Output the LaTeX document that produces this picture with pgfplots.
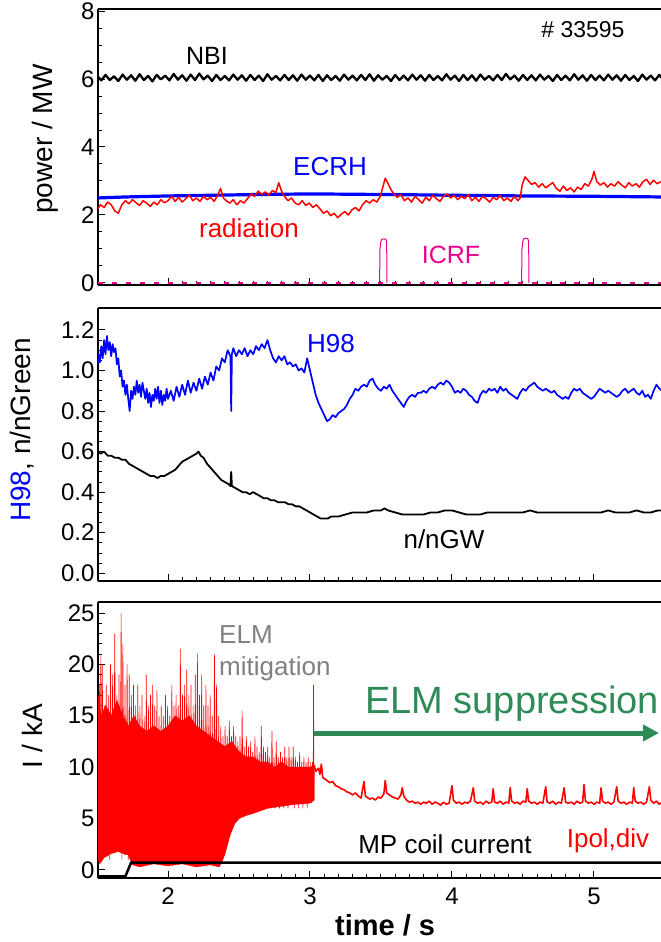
\documentclass[border=0pt]{standalone}
\usepackage{fontspec}
\setmainfont{Liberation Sans}
\usepackage{pgfplots}
\pgfplotsset{compat=1.18}
\usetikzlibrary{arrows.meta}
\definecolor{seagr}{RGB}{46,139,87}
\definecolor{elmgray}{RGB}{128,128,128}
\pgfplotsset{
  myax/.style={
    scale only axis, width=563pt,
    xmin=1.507, xmax=5.472,
    axis x line*=box, axis y line*=left,
    axis line style={line width=1.2pt, black, -},
    tick align=inside,
    xtick pos=left, ytick pos=left,
    xtick={2,3,4,5}, minor x tick num=9,
    major tick length=7pt, minor tick length=4pt,
    tick style={line width=1pt, black},
    tick label style={font=\fontsize{24}{24}\selectfont},
    /pgf/number format/assume math mode=true,
  },
}
\begin{document}
\begin{tikzpicture}
\path[use as bounding box] (0,0) rectangle (661pt,-942pt);
% ---------------- panel 1 ----------------
\begin{axis}[myax, at={(98pt,-285pt)}, anchor=south west, height=276pt,
  ymin=-0.06, ymax=8.06, ytick={0,2,4,6,8}, minor y tick num=3, xticklabels={},
  ylabel={power / MW},
  every axis y label/.style={at={(axis description cs:-0.094,0.529)}, anchor=center, rotate=90, font=\fontsize{28}{28}\selectfont}]
\addplot[black, line width=2.3pt, line join=round] coordinates {(1.50,6.10)(1.53,5.96)(1.56,6.12)(1.59,5.97)(1.62,6.08)(1.65,5.94)(1.68,6.13)(1.71,5.98)(1.74,6.11)(1.77,5.95)(1.80,6.14)(1.83,5.97)(1.86,6.09)(1.89,5.93)(1.92,6.12)(1.95,5.99)(1.98,6.10)(2.01,5.96)(2.04,6.15)(2.07,5.98)(2.10,6.11)(2.13,5.95)(2.16,6.13)(2.19,5.97)(2.22,6.16)(2.25,5.99)(2.28,6.10)(2.31,5.94)(2.34,6.12)(2.37,5.97)(2.40,6.09)(2.43,5.96)(2.46,6.13)(2.49,5.98)(2.52,6.11)(2.55,5.95)(2.58,6.12)(2.61,5.97)(2.64,6.10)(2.67,5.94)(2.70,6.14)(2.73,5.98)(2.76,6.09)(2.79,5.96)(2.82,6.12)(2.85,5.97)(2.88,6.11)(2.91,5.95)(2.94,6.13)(2.97,5.98)(3.00,6.10)(3.03,5.96)(3.06,6.12)(3.09,5.94)(3.12,6.11)(3.15,5.97)(3.18,6.09)(3.21,5.95)(3.24,6.13)(3.27,5.98)(3.30,6.10)(3.33,5.96)(3.36,6.12)(3.39,5.97)(3.42,6.14)(3.45,5.95)(3.48,6.11)(3.51,5.98)(3.54,6.09)(3.57,5.94)(3.60,6.12)(3.63,5.97)(3.66,6.10)(3.69,5.96)(3.72,6.13)(3.75,5.98)(3.78,6.11)(3.81,5.95)(3.84,6.12)(3.87,5.97)(3.90,6.09)(3.93,5.96)(3.96,6.14)(3.99,5.98)(4.02,6.10)(4.05,5.94)(4.08,6.12)(4.11,5.97)(4.14,6.11)(4.17,5.95)(4.20,6.13)(4.23,5.98)(4.26,6.09)(4.29,5.96)(4.32,6.12)(4.35,5.97)(4.38,6.15)(4.41,5.99)(4.44,6.10)(4.47,5.95)(4.50,6.12)(4.53,5.97)(4.56,6.11)(4.59,5.96)(4.62,6.13)(4.65,5.98)(4.68,6.09)(4.71,5.94)(4.74,6.12)(4.77,5.97)(4.80,6.10)(4.83,5.96)(4.86,6.14)(4.89,5.98)(4.92,6.11)(4.95,5.95)(4.98,6.12)(5.01,5.97)(5.04,6.10)(5.07,5.96)(5.10,6.13)(5.13,5.98)(5.16,6.11)(5.19,5.95)(5.22,6.12)(5.25,5.97)(5.28,6.09)(5.31,5.94)(5.34,6.13)(5.37,5.98)(5.40,6.10)(5.43,5.96)(5.46,6.12)(5.49,5.97)};
\addplot[blue, line width=3.2pt] coordinates {(1.50,2.50)(1.7,2.53)(2.0,2.56)(2.3,2.58)(2.6,2.60)(3.0,2.62)(3.3,2.61)(3.6,2.60)(4.0,2.58)(4.3,2.57)(4.5,2.56)(5.0,2.55)(5.48,2.53)};
\addplot[red, line width=1.5pt, line join=round] coordinates {(1.500,2.15)(1.525,2.30)(1.550,2.22)(1.575,2.38)(1.600,2.30)(1.625,2.12)(1.650,2.05)(1.675,2.30)(1.700,2.42)(1.725,2.33)(1.750,2.45)(1.775,2.36)(1.800,2.28)(1.825,2.42)(1.850,2.35)(1.875,2.25)(1.900,2.38)(1.925,2.30)(1.950,2.45)(1.975,2.36)(2.000,2.42)(2.025,2.55)(2.050,2.40)(2.075,2.52)(2.100,2.38)(2.125,2.48)(2.150,2.58)(2.175,2.42)(2.200,2.50)(2.225,2.40)(2.250,2.55)(2.275,2.45)(2.300,2.52)(2.325,2.40)(2.350,2.58)(2.370,2.78)(2.390,2.50)(2.410,2.42)(2.435,2.35)(2.460,2.45)(2.485,2.30)(2.510,2.42)(2.535,2.35)(2.560,2.48)(2.585,2.62)(2.610,2.55)(2.635,2.70)(2.660,2.60)(2.685,2.68)(2.710,2.58)(2.735,2.72)(2.760,2.66)(2.780,2.95)(2.800,2.70)(2.820,2.55)(2.845,2.42)(2.870,2.50)(2.895,2.35)(2.920,2.30)(2.945,2.42)(2.970,2.28)(2.995,2.35)(3.020,2.22)(3.045,2.30)(3.070,2.18)(3.095,2.05)(3.120,2.12)(3.145,1.98)(3.170,2.05)(3.195,1.92)(3.220,2.02)(3.245,2.10)(3.270,2.00)(3.295,2.15)(3.320,2.22)(3.345,2.12)(3.370,2.30)(3.395,2.42)(3.420,2.35)(3.445,2.45)(3.470,2.38)(3.495,2.55)(3.515,2.85)(3.530,3.08)(3.550,2.92)(3.570,2.75)(3.590,2.62)(3.615,2.52)(3.640,2.60)(3.665,2.42)(3.690,2.50)(3.715,2.38)(3.740,2.55)(3.765,2.45)(3.790,2.35)(3.815,2.52)(3.840,2.42)(3.865,2.58)(3.890,2.48)(3.915,2.40)(3.940,2.55)(3.965,2.62)(3.990,2.50)(4.015,2.58)(4.040,2.45)(4.065,2.55)(4.090,2.48)(4.115,2.60)(4.140,2.42)(4.165,2.52)(4.190,2.40)(4.215,2.55)(4.240,2.48)(4.265,2.38)(4.290,2.52)(4.315,2.45)(4.340,2.58)(4.365,2.42)(4.390,2.50)(4.415,2.40)(4.440,2.55)(4.465,2.42)(4.480,2.50)(4.495,2.90)(4.515,3.12)(4.535,3.02)(4.560,2.90)(4.585,2.95)(4.610,2.82)(4.635,2.92)(4.660,2.80)(4.685,2.88)(4.710,2.95)(4.735,2.78)(4.760,2.70)(4.785,2.85)(4.810,2.72)(4.835,2.80)(4.860,2.68)(4.885,2.82)(4.910,2.75)(4.935,2.92)(4.960,2.85)(4.985,3.05)(5.000,3.28)(5.020,2.98)(5.045,2.88)(5.070,2.95)(5.095,2.82)(5.120,2.92)(5.145,2.85)(5.170,2.98)(5.195,2.88)(5.220,2.80)(5.245,2.95)(5.270,2.85)(5.295,2.92)(5.320,2.82)(5.345,2.98)(5.370,3.05)(5.395,2.90)(5.420,3.02)(5.445,2.92)(5.470,2.98)};
\addplot[magenta, line width=1.5pt, dash pattern=on 5pt off 9pt] coordinates {(1.507,0)(5.472,0)};
\addplot[magenta, line width=1pt] coordinates {(3.490,0)(3.493,1.0)(3.498,1.2)(3.505,1.28)(3.520,1.30)(3.535,1.28)(3.540,1.2)(3.542,0)};
\addplot[magenta, line width=1pt] coordinates {(4.490,0)(4.493,1.0)(4.498,1.2)(4.505,1.30)(4.520,1.32)(4.535,1.30)(4.540,1.2)(4.542,0)};
\end{axis}
% ---------------- panel 2 ----------------
\begin{axis}[myax, at={(98pt,-581pt)}, anchor=south west, height=273pt,
  ymin=-0.038, ymax=1.308, ytick={0,0.2,0.4,0.6,0.8,1.0,1.2}, minor y tick num=3, xticklabels={},
  yticklabel style={/pgf/number format/.cd, fixed, fixed zerofill, precision=1},
  ylabel={\textcolor{blue}{H98}, n/nGreen},
  every axis y label/.style={at={(axis description cs:-0.135,0.553)}, anchor=center, rotate=90, font=\fontsize{28}{28}\selectfont}]
\addplot[blue, line width=1.7pt, line join=round] coordinates {(1.50,1.00)(1.51,1.08)(1.52,1.04)(1.53,1.12)(1.54,1.06)(1.55,1.15)(1.56,1.08)(1.57,1.17)(1.58,1.10)(1.59,1.14)(1.60,1.07)(1.61,1.13)(1.62,1.09)(1.63,1.11)(1.64,1.03)(1.65,1.06)(1.66,0.97)(1.67,1.00)(1.68,0.92)(1.69,0.95)(1.70,0.88)(1.71,0.93)(1.72,0.86)(1.73,0.80)(1.74,0.90)(1.75,0.86)(1.76,0.92)(1.77,0.88)(1.78,0.95)(1.79,0.89)(1.80,0.93)(1.81,0.87)(1.82,0.94)(1.83,0.90)(1.84,0.86)(1.85,0.91)(1.86,0.84)(1.87,0.89)(1.88,0.82)(1.89,0.88)(1.90,0.85)(1.91,0.91)(1.92,0.86)(1.93,0.92)(1.94,0.84)(1.95,0.90)(1.96,0.83)(1.97,0.88)(1.98,0.85)(1.99,0.91)(2.00,0.86)(2.02,0.90)(2.04,0.85)(2.06,0.92)(2.08,0.87)(2.10,0.93)(2.12,0.88)(2.14,0.95)(2.16,0.89)(2.18,0.94)(2.20,0.90)(2.22,0.96)(2.24,0.91)(2.26,0.97)(2.28,0.93)(2.30,0.99)(2.32,0.95)(2.34,1.02)(2.36,1.00)(2.38,1.06)(2.40,1.04)(2.42,1.10)(2.44,1.07)(2.445,0.80)(2.45,1.08)(2.46,1.11)(2.48,1.07)(2.50,1.10)(2.52,1.08)(2.54,1.11)(2.56,1.07)(2.58,1.10)(2.60,1.08)(2.62,1.12)(2.64,1.10)(2.66,1.13)(2.68,1.11)(2.70,1.15)(2.72,1.10)(2.74,1.06)(2.76,1.04)(2.78,1.07)(2.80,1.05)(2.82,1.07)(2.84,1.03)(2.86,1.04)(2.88,1.02)(2.90,1.03)(2.92,1.00)(2.94,1.01)(2.96,0.99)(2.98,1.06)(3.00,1.00)(3.02,0.94)(3.04,0.88)(3.06,0.84)(3.08,0.81)(3.10,0.78)(3.12,0.75)(3.14,0.76)(3.16,0.78)(3.18,0.77)(3.20,0.79)(3.22,0.80)(3.24,0.81)(3.26,0.83)(3.28,0.86)(3.30,0.88)(3.32,0.91)(3.34,0.90)(3.36,0.92)(3.38,0.93)(3.40,0.92)(3.42,0.95)(3.44,0.96)(3.46,0.93)(3.48,0.91)(3.50,0.90)(3.52,0.92)(3.54,0.91)(3.56,0.93)(3.58,0.90)(3.60,0.88)(3.62,0.86)(3.64,0.84)(3.66,0.82)(3.68,0.85)(3.70,0.87)(3.72,0.88)(3.74,0.87)(3.76,0.89)(3.78,0.89)(3.80,0.90)(3.82,0.89)(3.84,0.91)(3.86,0.92)(3.88,0.91)(3.90,0.93)(3.92,0.94)(3.94,0.93)(3.96,0.95)(3.98,0.94)(4.00,0.92)(4.02,0.89)(4.04,0.90)(4.06,0.89)(4.08,0.91)(4.10,0.90)(4.12,0.88)(4.14,0.87)(4.16,0.85)(4.18,0.84)(4.20,0.88)(4.22,0.90)(4.24,0.89)(4.26,0.91)(4.28,0.90)(4.30,0.91)(4.32,0.89)(4.34,0.92)(4.36,0.90)(4.38,0.91)(4.40,0.89)(4.42,0.88)(4.44,0.87)(4.46,0.86)(4.48,0.89)(4.50,0.91)(4.52,0.90)(4.54,0.92)(4.56,0.93)(4.58,0.94)(4.60,0.92)(4.62,0.91)(4.64,0.90)(4.66,0.91)(4.68,0.90)(4.70,0.89)(4.72,0.90)(4.74,0.88)(4.76,0.87)(4.78,0.86)(4.80,0.87)(4.82,0.86)(4.84,0.89)(4.86,0.91)(4.88,0.90)(4.90,0.91)(4.92,0.89)(4.94,0.88)(4.96,0.87)(4.98,0.86)(5.00,0.87)(5.02,0.89)(5.04,0.91)(5.06,0.90)(5.08,0.89)(5.10,0.90)(5.12,0.89)(5.14,0.88)(5.16,0.87)(5.18,0.88)(5.20,0.90)(5.22,0.91)(5.24,0.89)(5.26,0.90)(5.28,0.91)(5.30,0.89)(5.32,0.88)(5.34,0.90)(5.36,0.87)(5.38,0.88)(5.40,0.86)(5.42,0.90)(5.44,0.93)(5.46,0.91)(5.48,0.90)};
\addplot[black, line width=1.8pt, line join=round] coordinates {(1.500,0.60)(1.525,0.59)(1.550,0.60)(1.575,0.58)(1.600,0.58)(1.625,0.57)(1.650,0.57)(1.675,0.56)(1.700,0.56)(1.725,0.54)(1.750,0.53)(1.775,0.52)(1.800,0.51)(1.825,0.50)(1.850,0.49)(1.875,0.48)(1.900,0.48)(1.925,0.47)(1.950,0.48)(1.975,0.48)(2.000,0.49)(2.025,0.50)(2.050,0.51)(2.075,0.53)(2.100,0.55)(2.125,0.56)(2.150,0.57)(2.175,0.58)(2.200,0.59)(2.215,0.60)(2.230,0.58)(2.250,0.57)(2.275,0.54)(2.300,0.52)(2.325,0.50)(2.350,0.48)(2.375,0.46)(2.400,0.45)(2.425,0.44)(2.440,0.43)(2.445,0.50)(2.450,0.43)(2.475,0.42)(2.500,0.41)(2.525,0.40)(2.550,0.40)(2.575,0.39)(2.600,0.40)(2.625,0.39)(2.650,0.38)(2.675,0.37)(2.700,0.37)(2.725,0.36)(2.750,0.36)(2.775,0.35)(2.800,0.35)(2.825,0.35)(2.850,0.34)(2.875,0.34)(2.900,0.33)(2.925,0.33)(2.950,0.32)(2.975,0.31)(3.000,0.30)(3.025,0.29)(3.050,0.28)(3.075,0.27)(3.100,0.27)(3.125,0.27)(3.150,0.28)(3.200,0.28)(3.250,0.29)(3.300,0.30)(3.350,0.30)(3.400,0.30)(3.450,0.31)(3.500,0.31)(3.525,0.32)(3.550,0.31)(3.600,0.30)(3.650,0.29)(3.700,0.29)(3.750,0.29)(3.800,0.29)(3.850,0.30)(3.900,0.30)(3.950,0.31)(4.000,0.31)(4.050,0.30)(4.100,0.29)(4.150,0.29)(4.200,0.29)(4.250,0.30)(4.300,0.30)(4.350,0.30)(4.400,0.30)(4.450,0.30)(4.500,0.30)(4.550,0.31)(4.600,0.30)(4.650,0.30)(4.700,0.30)(4.750,0.30)(4.800,0.30)(4.850,0.30)(4.900,0.30)(4.950,0.30)(5.000,0.30)(5.050,0.30)(5.100,0.31)(5.150,0.30)(5.200,0.30)(5.250,0.30)(5.300,0.31)(5.350,0.30)(5.400,0.30)(5.450,0.31)(5.480,0.31)};
\end{axis}
% ---------------- panel 3 ----------------
\begin{axis}[myax, at={(98pt,-878pt)}, anchor=south west, height=276pt,
  ymin=-0.78, ymax=26.07, ytick={0,5,10,15,20,25}, minor y tick num=4,
  xticklabel style={yshift=-6pt},
  xlabel={\bfseries time / s},
  every axis x label/.style={at={(axis description cs:0.51,-0.207)}, anchor=base, inner sep=0pt, font=\fontsize{29}{29}\selectfont},
  ylabel={I / kA},
  every axis y label/.style={at={(axis description cs:-0.117,0.514)}, anchor=center, rotate=90, font=\fontsize{28}{28}\selectfont}]
\addplot[red, fill=red, line width=0.4pt] coordinates {(1.507,17)(1.53,15)(1.56,16)(1.60,15)(1.64,16.5)(1.68,15)(1.72,14)(1.76,15)(1.80,14)(1.85,13.5)(1.90,14)(1.95,13.5)(2.00,14)(2.05,15)(2.10,14.5)(2.15,15)(2.20,14)(2.25,13.5)(2.30,13)(2.35,12.5)(2.40,12)(2.45,12.5)(2.50,11.5)(2.55,11)(2.60,11)(2.65,10.5)(2.70,10.5)(2.75,10)(2.80,10.5)(2.85,10)(2.90,10)(2.95,10)(3.00,10)(3.03,10.2)(3.03,6.8)(3.00,6.5)(2.90,6.4)(2.80,6.2)(2.70,6.0)(2.60,5.5)(2.55,5.3)(2.50,5.0)(2.47,4.5)(2.44,3.5)(2.42,2.5)(2.40,1.5)(2.38,0.8)(2.36,0.3)(2.30,0.5)(2.20,0.3)(2.10,0.6)(2.00,0.4)(1.90,0.6)(1.80,0.3)(1.75,0.5)(1.72,1.5)(1.70,1.5)(1.65,1.8)(1.60,1.6)(1.55,1.2)(1.52,0.6)(1.507,1)} -- cycle;
\addplot[red, line width=0.6pt] coordinates {(1.507,17)(1.512,2)(1.517,18)(1.522,1)(1.527,21)(1.532,3)(1.537,20)(1.545,5)(1.552,16)(1.558,2)(1.565,18)(1.572,4)(1.580,17)(1.587,1)(1.595,20)(1.602,3)(1.610,19)(1.617,2)(1.625,23)(1.632,4)(1.640,17)(1.647,2)(1.655,19)(1.662,3)(1.670,25)(1.675,1)(1.682,22)(1.690,2)(1.697,18)(1.705,3)(1.712,20)(1.720,1)(1.727,19)(1.735,2)(1.742,17)(1.750,1)(1.757,18)(1.765,2)(1.772,16)(1.780,1)(1.787,18)(1.795,2)(1.802,16)(1.810,1)(1.817,17)(1.825,2)(1.832,15)(1.840,1)(1.847,19)(1.855,2)(1.862,16)(1.870,1)(1.877,17)(1.885,2)(1.892,18)(1.900,1)(1.907,16)(1.915,2)(1.922,17.5)(1.930,1)(1.937,15)(1.945,2)(1.952,16)(1.960,1)(1.967,15)(1.975,2)(1.982,17)(1.990,1)(1.997,16)(2.005,2)(2.012,15)(2.020,1)(2.027,18)(2.035,2)(2.042,16)(2.050,1)(2.057,17)(2.065,2)(2.072,16)(2.080,1)(2.087,21.5)(2.095,2)(2.102,17)(2.110,1)(2.117,18)(2.125,2)(2.132,19.5)(2.140,1)(2.147,17)(2.155,2)(2.162,18)(2.170,1)(2.177,16)(2.185,2)(2.192,19)(2.200,1)(2.207,21)(2.215,2)(2.222,17)(2.230,1)(2.237,19)(2.245,2)(2.252,16)(2.260,1)(2.267,18)(2.275,2)(2.282,16)(2.290,1)(2.297,17)(2.305,2)(2.312,15)(2.320,1)(2.327,21)(2.335,2)(2.342,18)(2.350,1)(2.357,15)(2.365,2)(2.372,14)(2.380,3)(2.387,13)(2.395,4)(2.402,14)(2.410,5)(2.417,13)(2.425,5)(2.432,14.5)(2.440,5)(2.447,13)(2.455,6)(2.462,14)(2.470,5)(2.477,13)(2.485,6)(2.492,12.5)(2.500,6)(2.507,13)(2.515,5.5)(2.522,15.5)(2.530,6)(2.537,12)(2.545,6)(2.552,13)(2.560,5.5)(2.567,12)(2.575,6)(2.582,12.5)(2.590,6)(2.597,11.5)(2.605,6)(2.612,13)(2.620,6)(2.627,12)(2.635,6)(2.642,11.5)(2.650,6)(2.657,14)(2.665,6)(2.672,12)(2.680,6.5)(2.687,11.5)(2.695,6)(2.702,12)(2.710,6.5)(2.717,11)(2.725,6)(2.732,13.5)(2.740,6.5)(2.747,11)(2.755,6)(2.762,12.5)(2.770,6.5)(2.777,11)(2.785,6)(2.792,11.5)(2.800,6.5)(2.807,11)(2.815,6)(2.822,12)(2.830,6.5)(2.837,11)(2.845,6)(2.852,12)(2.860,6.5)(2.867,11)(2.875,6.5)(2.882,12)(2.890,6)(2.897,11)(2.905,6.5)(2.912,10.5)(2.920,6)(2.927,11.5)(2.935,6.5)(2.942,10.5)(2.950,6)(2.957,11)(2.965,6.5)(2.972,10.5)(2.980,6)(2.987,11)(2.995,6.5)(3.002,10.5)(3.010,6.5)(3.017,10.5)(3.022,7)(3.025,18)(3.028,9)};
\addplot[red, line width=1.6pt, line join=round] coordinates {(3.03,10.2)(3.04,9.6)(3.06,9.9)(3.07,9.3)(3.08,10.3)(3.09,9.0)(3.10,8.9)(3.12,8.7)(3.14,8.5)(3.16,8.6)(3.18,8.2)(3.20,8.1)(3.22,7.9)(3.24,7.8)(3.26,7.6)(3.28,7.5)(3.30,7.3)(3.32,7.5)(3.34,7.2)(3.36,7.0)(3.38,8.6)(3.39,7.2)(3.40,7.1)(3.42,6.9)(3.44,7.0)(3.46,6.8)(3.48,7.1)(3.50,7.0)(3.52,7.4)(3.53,8.7)(3.54,7.5)(3.56,7.3)(3.58,7.1)(3.60,7.0)(3.62,6.9)(3.64,7.3)(3.65,8.0)(3.66,7.2)(3.68,6.8)(3.70,6.6)(3.72,6.7)(3.74,6.5)(3.76,6.6)(3.78,6.4)(3.80,6.6)(3.82,6.5)(3.84,6.7)(3.86,6.4)(3.88,6.6)(3.90,6.5)(3.92,6.3)(3.94,6.6)(3.96,6.4)(3.98,6.5)(4.00,8.2)(4.01,6.8)(4.03,6.5)(4.05,6.6)(4.07,6.4)(4.09,6.6)(4.11,6.5)(4.13,6.7)(4.15,8.0)(4.16,6.7)(4.18,6.5)(4.20,6.6)(4.22,6.4)(4.24,6.7)(4.26,6.5)(4.28,6.6)(4.29,7.9)(4.30,6.6)(4.32,6.5)(4.34,6.7)(4.36,6.4)(4.38,6.6)(4.40,6.5)(4.41,8.0)(4.42,6.7)(4.44,6.5)(4.46,6.6)(4.48,6.4)(4.50,6.7)(4.52,6.6)(4.53,7.9)(4.54,6.7)(4.56,6.5)(4.58,6.6)(4.60,6.4)(4.62,6.6)(4.64,6.5)(4.66,8.1)(4.67,6.6)(4.69,6.5)(4.71,6.7)(4.73,6.4)(4.75,6.6)(4.77,6.5)(4.79,8.0)(4.80,6.6)(4.82,6.5)(4.84,6.6)(4.86,6.4)(4.88,6.7)(4.90,6.5)(4.92,6.6)(4.93,8.3)(4.94,6.7)(4.96,6.5)(4.98,6.6)(5.00,6.4)(5.02,6.6)(5.04,6.5)(5.05,8.0)(5.06,6.7)(5.08,6.5)(5.10,6.6)(5.12,6.4)(5.14,6.6)(5.16,8.1)(5.17,6.7)(5.19,6.5)(5.21,6.6)(5.23,6.4)(5.25,6.6)(5.27,6.5)(5.28,8.0)(5.29,6.7)(5.31,6.5)(5.33,6.6)(5.35,6.4)(5.37,6.6)(5.39,8.1)(5.40,6.8)(5.42,6.5)(5.44,6.7)(5.46,6.4)(5.48,6.6)};
\addplot[black, line width=2.5pt] coordinates {(1.507,-0.62)(1.700,-0.62)(1.740,0.72)(5.48,0.72)};
\end{axis}
% ---------------- annotations ----------------
\node[anchor=base, font=\fontsize{23}{23}\selectfont] at (583pt,-38pt) {\# 33595};
\node[anchor=base, font=\fontsize{25}{25}\selectfont] at (207pt,-65pt) {NBI};
\node[anchor=base, font=\fontsize{26}{26}\selectfont, text=blue] at (330pt,-175pt) {ECRH};
\node[anchor=base, font=\fontsize{26}{26}\selectfont, text=red] at (249pt,-237pt) {radiation};
\node[anchor=base, font=\fontsize{25}{25}\selectfont, text=magenta] at (451pt,-263pt) {ICRF};
\node[anchor=base, font=\fontsize{26}{26}\selectfont, text=blue] at (331pt,-352pt) {H98};
\node[anchor=base, font=\fontsize{26}{26}\selectfont] at (444pt,-548pt) {n/nGW};
\node[anchor=base west, inner sep=0pt, font=\fontsize{26}{26}\selectfont, text=elmgray] at (219pt,-643pt) {ELM};
\node[anchor=base west, inner sep=0pt, font=\fontsize{26}{26}\selectfont, text=elmgray] at (219pt,-675pt) {mitigation};
\node[anchor=base west, inner sep=0pt, font=\fontsize{38}{38}\selectfont, text=seagr] at (365pt,-713pt) {ELM suppression};
\draw[seagr, line width=5pt, -{Triangle[length=16pt,width=16pt]}] (314pt,-733pt) -- (659pt,-733pt);
\node[anchor=base, font=\fontsize{26}{26}\selectfont] at (445pt,-853pt) {MP coil current};
\node[anchor=base, font=\fontsize{26}{26}\selectfont, text=red] at (608pt,-847pt) {Ipol,div};
\end{tikzpicture}
\end{document}
